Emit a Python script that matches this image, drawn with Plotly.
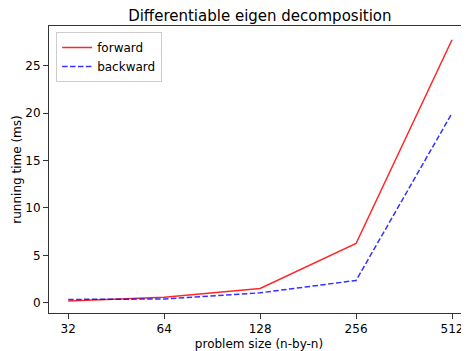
import plotly.graph_objects as go

sizes = ["32", "64", "128", "256", "512"]
forward_ms = [0.18, 0.57, 1.5, 6.25, 27.75]
backward_ms = [0.35, 0.4, 1.05, 2.35, 20.0]

font_family = "DejaVu Sans"

# The page body adds an 8px offset, so the figure is 8px smaller and margins shifted.
W, H = 461, 343

fig = go.Figure()
fig.add_trace(go.Scatter(x=sizes, y=forward_ms, mode="lines", name="forward",
                         line=dict(color="rgba(255,0,0,0.85)", width=1.5)))
fig.add_trace(go.Scatter(x=sizes, y=backward_ms, mode="lines", name="backward",
                         line=dict(color="rgba(0,0,255,0.8)", width=1.5, dash="5.5px,2.4px")))

fig.update_layout(
    width=W, height=H,
    margin=dict(l=41, r=0, t=18, b=38, pad=0),
    paper_bgcolor="white", plot_bgcolor="white",
    font=dict(family=font_family, size=12, color="black"),
    title=dict(text="Differentiable eigen decomposition", x=0.502, xref="paper",
               xanchor="center", y=1.0, yref="paper", yanchor="bottom",
               pad=dict(b=5), font=dict(size=15, color="black")),
    showlegend=True,
    legend=dict(x=0.017, y=0.979, xanchor="left", yanchor="top",
                bordercolor="#cccccc", borderwidth=1, bgcolor="rgba(255,255,255,0.8)",
                font=dict(size=12), tracegroupgap=0),
    xaxis=dict(type="category", range=[-0.2, 4.177], showline=True, linecolor="#333333",
               linewidth=1, mirror=True, ticks="outside", ticklen=5, tickcolor="#333333",
               showgrid=False, zeroline=False, automargin=False,
               title=dict(text="problem size (n-by-n)", standoff=4, font=dict(size=12))),
    yaxis=dict(range=[-1.08, 29.2], dtick=5, tick0=0, showline=True, linecolor="#333333",
               linewidth=1, ticks="outside", ticklen=5, tickcolor="#333333",
               showgrid=False, zeroline=False, automargin=False,
               title=dict(text="running time (ms)", standoff=1, font=dict(size=12))),
)

fig.write_html("out.html")
